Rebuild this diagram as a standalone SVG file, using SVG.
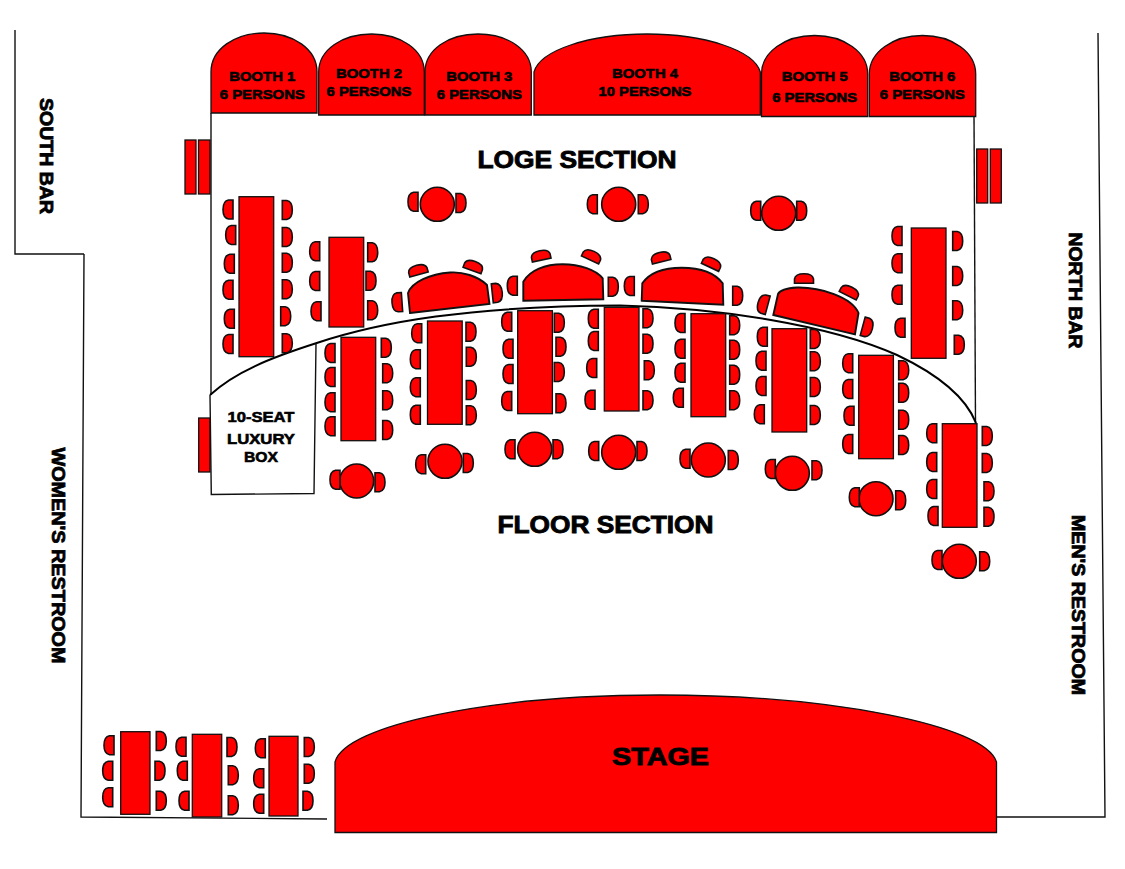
<svg xmlns="http://www.w3.org/2000/svg" width="1125" height="869" viewBox="0 0 1125 869">
<style>
.r{fill:#f00;stroke:#111;stroke-width:1.3}
.w{fill:none;stroke:#111;stroke-width:1.4}
.k{fill:none;stroke:#000;stroke-width:2}
.c{stroke-width:1.6}
.h{stroke-width:1.9}
text{font-family:"Liberation Sans",Arial,sans-serif;font-weight:700;fill:#000;text-anchor:middle;stroke:#000}
.b{font-size:13px;stroke-width:.6}
.s{font-size:24.5px;stroke-width:.9}
.v{font-size:18px;stroke-width:.8}
.x{font-size:15px;stroke-width:.6}
</style>
<defs>
<path id="cl" class="r c" d="M0-9.500H-4.500Q-10-8.500-10 0Q-10 8.500-4.500 9.500H0Z"/>
<path id="cr" class="r c" d="M0-9.500H4.500Q10-8.500 10 0Q10 8.500 4.500 9.500H0Z"/>
<path id="ct" class="r c" d="M-9.500 0V-4.500Q-8.500-9.500 0-9.500Q8.500-9.500 9.500-4.500V0Z"/>
<circle id="o" class="r c" r="17"/>
</defs>
<rect width="1125" height="869" fill="#fff"/>

<g id="walls">
<path class="w" d="M15 30V254H84"/>
<path class="w" d="M84 254L81 817L327 819"/>
<path class="w" d="M1098 33L1105 817H997"/>
<path class="w" d="M211 113V395"/>
<path class="w" d="M974 115L975.500 423"/>
<path class="k" d="M210 395C235 372 270 358 316 343.300C380 322 470 306 620 305.500C720 308 830 325 897 355C935 373 965 395 976 423"/>
</g>

<g id="booths">
<g id="booth-1"><path class="r" d="M211 113V72C211 49 235 33 264 33C293 33 317 49 317 72V113Z"/><text class="b" x="262.300" y="80.700" textLength="66" lengthAdjust="spacingAndGlyphs">BOOTH 1</text><text class="b" x="262.300" y="98.700" textLength="85" lengthAdjust="spacingAndGlyphs">6 PERSONS</text></g>
<g id="booth-2"><path class="r" d="M318.700 115V72C318.700 50 342 34 371.500 34C401 34 424.300 50 424.300 72V115Z"/><text class="b" x="369" y="78.300" textLength="66" lengthAdjust="spacingAndGlyphs">BOOTH 2</text><text class="b" x="369" y="96" textLength="85" lengthAdjust="spacingAndGlyphs">6 PERSONS</text></g>
<g id="booth-3"><path class="r" d="M425 115V72C425 50 448 34 478 34C508 34 531.300 50 531.300 72V115Z"/><text class="b" x="479.300" y="80.700" textLength="66" lengthAdjust="spacingAndGlyphs">BOOTH 3</text><text class="b" x="479.300" y="98.700" textLength="85" lengthAdjust="spacingAndGlyphs">6 PERSONS</text></g>
<g id="booth-4"><path class="r" d="M534 115V72C540 50 590 34 647 34C704 34 754 50 760.300 72V115Z"/><text class="b" x="645" y="78.300" textLength="66" lengthAdjust="spacingAndGlyphs">BOOTH 4</text><text class="b" x="645" y="96" textLength="93" lengthAdjust="spacingAndGlyphs">10 PERSONS</text></g>
<g id="booth-5"><path class="r" d="M761.500 116.500V74C761.500 52 785 35.500 814.500 35.500C844 35.500 867.700 52 867.700 74V116.500Z"/><text class="b" x="814.700" y="80.700" textLength="66" lengthAdjust="spacingAndGlyphs">BOOTH 5</text><text class="b" x="814.700" y="101.700" textLength="85" lengthAdjust="spacingAndGlyphs">6 PERSONS</text></g>
<g id="booth-6"><path class="r" d="M869.300 116.500V74C869.300 52 893 35.500 922.500 35.500C952 35.500 975.700 52 975.700 74V116.500Z"/><text class="b" x="922.300" y="80.700" textLength="66" lengthAdjust="spacingAndGlyphs">BOOTH 6</text><text class="b" x="922.300" y="98.700" textLength="85" lengthAdjust="spacingAndGlyphs">6 PERSONS</text></g>
</g>

<g id="bars">
<rect class="r" x="185" y="140" width="11" height="54"/>
<rect class="r" x="198.500" y="140" width="11.500" height="54"/>
<rect class="r" x="976.700" y="149" width="11" height="54"/>
<rect class="r" x="990.300" y="149" width="11" height="54"/>
<rect class="r" x="198.700" y="418" width="11.300" height="54"/>
</g>

<g id="luxury-box">
<path class="w" d="M316 343.300L314 493.500L211.300 494.500L210 395"/>
<text class="x" x="261" y="421.700" textLength="67" lengthAdjust="spacingAndGlyphs">10-SEAT</text>
<text class="x" x="261" y="444" textLength="68" lengthAdjust="spacingAndGlyphs">LUXURY</text>
<text class="x" x="261" y="462" textLength="34" lengthAdjust="spacingAndGlyphs">BOX</text>
</g>

<g id="long-tables">
<g id="t1"><rect class="r" x="239" y="196.700" width="34.700" height="160"/>
<use href="#cl" x="233" y="209.500"/><use href="#cl" x="235.700" y="235"/><use href="#cl" x="234.300" y="263.700"/><use href="#cl" x="233" y="289.700"/><use href="#cl" x="234.300" y="318.700"/><use href="#cl" x="233" y="344"/>
<use href="#cr" x="282.300" y="210"/><use href="#cr" x="282.300" y="237"/><use href="#cr" x="282.300" y="262.700"/><use href="#cr" x="282.300" y="289.300"/><use href="#cr" x="280.700" y="316.300"/><use href="#cr" x="282.300" y="343.300"/></g>
<g id="t2"><rect class="r" x="329" y="237.300" width="34.700" height="89.700"/>
<use href="#cl" x="319.700" y="251.300"/><use href="#cl" x="319.700" y="281"/><use href="#cl" x="321" y="311.300"/>
<use href="#cr" x="367.700" y="252.300"/><use href="#cr" x="366" y="280.700"/><use href="#cr" x="367.700" y="310.300"/></g>
<g id="t3"><rect class="r" x="341" y="337.300" width="34.700" height="103.400"/>
<use href="#cl" x="335" y="353"/><use href="#cl" x="335" y="377"/><use href="#cl" x="335" y="402.300"/><use href="#cl" x="335" y="426.300"/>
<use href="#cr" x="381.300" y="347.700"/><use href="#cr" x="382.700" y="373.300"/><use href="#cr" x="382.700" y="400.300"/><use href="#cr" x="382.700" y="430"/></g>
<g id="t4"><rect class="r" x="427.500" y="321" width="34.700" height="103.300"/>
<use href="#cl" x="421.700" y="333.300"/><use href="#cl" x="420.300" y="359.300"/><use href="#cl" x="420.300" y="387.300"/><use href="#cl" x="420.300" y="414.700"/>
<use href="#cr" x="466" y="331.700"/><use href="#cr" x="466.300" y="356.700"/><use href="#cr" x="466.300" y="390"/><use href="#cr" x="466.300" y="415.300"/></g>
<g id="t5"><rect class="r" x="517.700" y="310.700" width="34.700" height="103"/>
<use href="#cl" x="511.700" y="321.700"/><use href="#cl" x="513" y="348.700"/><use href="#cl" x="513" y="374"/><use href="#cl" x="511.700" y="401"/>
<use href="#cr" x="554.300" y="322.700"/><use href="#cr" x="556" y="346.700"/><use href="#cr" x="554.300" y="372"/><use href="#cr" x="556" y="403.300"/></g>
<g id="t6"><rect class="r" x="604.300" y="307.300" width="34.700" height="103.700"/>
<use href="#cl" x="598.300" y="318.700"/><use href="#cl" x="598.300" y="341"/><use href="#cl" x="596.700" y="368"/><use href="#cl" x="595" y="399.700"/>
<use href="#cr" x="643" y="318.300"/><use href="#cr" x="643" y="343.700"/><use href="#cr" x="644.300" y="370.300"/><use href="#cr" x="643" y="400.300"/></g>
<g id="t7"><rect class="r" x="691" y="313.700" width="34.700" height="103"/>
<use href="#cl" x="685" y="323"/><use href="#cl" x="685" y="348.700"/><use href="#cl" x="685" y="372.700"/><use href="#cl" x="683.300" y="397.700"/>
<use href="#cr" x="729.700" y="325.300"/><use href="#cr" x="729.700" y="349.700"/><use href="#cr" x="729.700" y="374.700"/><use href="#cr" x="729.700" y="400.300"/></g>
<g id="t8"><rect class="r" x="772" y="328.700" width="34.700" height="103.300"/>
<use href="#cl" x="767.300" y="336.700"/><use href="#cl" x="766" y="360.700"/><use href="#cl" x="766" y="386"/><use href="#cl" x="764.300" y="414.300"/>
<use href="#cr" x="810.300" y="339"/><use href="#cr" x="810.300" y="361.300"/><use href="#cr" x="810.300" y="387"/><use href="#cr" x="810.300" y="415"/></g>
<g id="t9"><rect class="r" x="858.700" y="355.300" width="34.700" height="103.400"/>
<use href="#cl" x="852.700" y="363.300"/><use href="#cl" x="852.700" y="389"/><use href="#cl" x="854" y="415.700"/><use href="#cl" x="852.700" y="444"/>
<use href="#cr" x="898.700" y="370.300"/><use href="#cr" x="898.700" y="392.700"/><use href="#cr" x="898.700" y="419.700"/><use href="#cr" x="898.700" y="445"/></g>
<g id="t10"><rect class="r" x="942.300" y="423.700" width="34.700" height="103.600"/>
<use href="#cl" x="936.700" y="433.300"/><use href="#cl" x="936.700" y="462"/><use href="#cl" x="936.700" y="489"/><use href="#cl" x="938" y="516"/>
<use href="#cr" x="982.300" y="436"/><use href="#cr" x="982.300" y="463"/><use href="#cr" x="984" y="491.300"/><use href="#cr" x="984" y="516.700"/></g>
<g id="t11"><rect class="r" x="911.300" y="228" width="34.700" height="130.300"/>
<use href="#cl" x="902" y="236"/><use href="#cl" x="902" y="263.300"/><use href="#cl" x="902" y="294.700"/><use href="#cl" x="905" y="327.700"/>
<use href="#cr" x="952.700" y="241"/><use href="#cr" x="952.700" y="276"/><use href="#cr" x="952.700" y="310.300"/><use href="#cr" x="954.300" y="344.700"/></g>
<g id="t12"><rect class="r" x="120.700" y="731.700" width="29.300" height="82.600"/>
<use href="#cl" x="114" y="745.300"/><use href="#cl" x="112.700" y="770.700"/><use href="#cl" x="112.700" y="797.300"/>
<use href="#cr" x="156.300" y="741"/><use href="#cr" x="155" y="770.700"/><use href="#cr" x="156.300" y="800.700"/></g>
<g id="t13"><rect class="r" x="192.300" y="734.300" width="29.400" height="82.700"/>
<use href="#cl" x="186" y="746.700"/><use href="#cl" x="187.300" y="770.700"/><use href="#cl" x="189" y="800.700"/>
<use href="#cr" x="227" y="747"/><use href="#cr" x="228.300" y="775.300"/><use href="#cr" x="228.300" y="805.300"/></g>
<g id="t14"><rect class="r" x="269" y="736.300" width="29" height="79.700"/>
<use href="#cl" x="265.300" y="748.300"/><use href="#cl" x="263.700" y="778.300"/><use href="#cl" x="263.700" y="803.700"/>
<use href="#cr" x="304.300" y="747"/><use href="#cr" x="304.300" y="773.700"/><use href="#cr" x="303" y="800.700"/></g>
</g>

<g id="round-tables">
<g id="r1"><use href="#o" x="437.300" y="204.300"/><use href="#cl" x="418" y="201.700"/><use href="#cr" x="456" y="203"/></g>
<g id="r2"><use href="#o" x="618.700" y="204.300"/><use href="#cl" x="597.300" y="204.300"/><use href="#cr" x="638.300" y="204.300"/></g>
<g id="r3"><use href="#o" x="778.700" y="213.300"/><use href="#cl" x="760.700" y="210.700"/><use href="#cr" x="796.700" y="210.700"/></g>
<g id="r4"><use href="#o" x="356.700" y="481"/><use href="#cl" x="340" y="479.700"/><use href="#cr" x="375" y="482.300"/></g>
<g id="r5"><use href="#o" x="445" y="461.300"/><use href="#cl" x="425.700" y="464.300"/><use href="#cr" x="463.300" y="463"/></g>
<g id="r6"><use href="#o" x="534.700" y="449.300"/><use href="#cl" x="515" y="449.300"/><use href="#cr" x="553" y="449.300"/></g>
<g id="r7"><use href="#o" x="618.700" y="452.300"/><use href="#cl" x="598.700" y="451"/><use href="#cr" x="637" y="451"/></g>
<g id="r8"><use href="#o" x="708.300" y="460"/><use href="#cl" x="690" y="458.700"/><use href="#cr" x="728.300" y="460"/></g>
<g id="r9"><use href="#o" x="792.300" y="473.300"/><use href="#cl" x="775.300" y="469"/><use href="#cr" x="812" y="470.300"/></g>
<g id="r10"><use href="#o" x="876" y="498.700"/><use href="#cl" x="859.300" y="497.300"/><use href="#cr" x="895.700" y="500.300"/></g>
<g id="r11"><use href="#o" x="959.300" y="561.300"/><use href="#cl" x="942" y="560"/><use href="#cr" x="979.700" y="561.300"/></g>
</g>

<g id="arch-tables">
<g id="a1"><path class="r h" d="M410 313L489.500 304L487 285C478 276 462 271.500 450 272.500C430 274 412 282 408 293Z"/>
<use href="#ct" transform="translate(419 274.500) rotate(-15)"/><use href="#ct" transform="translate(472 270.500) rotate(20)"/>
<use href="#cl" transform="translate(402 302) rotate(-4)"/><use href="#cr" transform="translate(492.300 293.300) rotate(-6)"/></g>
<g id="a2"><path class="r h" d="M523.300 300.700L603.300 299.300L602.700 278.300C596 270 580 264.300 562.700 264.300C545 264.300 530 270 523.300 281.700Z"/>
<use href="#ct" transform="translate(541.700 260) rotate(-12)"/><use href="#ct" transform="translate(590 260) rotate(25)"/>
<use href="#cl" x="517.300" y="285.700"/><use href="#cr" x="608.300" y="286.700"/></g>
<g id="a3"><path class="r h" d="M641.700 300.700L723.300 304.700L722.700 283.300C715 273 700 267.700 681.700 267.700C663 267.700 650 272 642.300 283.300Z"/>
<use href="#ct" transform="translate(661.700 261.700) rotate(-14)"/><use href="#ct" transform="translate(710 267.300) rotate(25)"/>
<use href="#cl" x="634.300" y="286"/><use href="#cr" x="732.700" y="295.700"/></g>
<g id="a4"><path class="r h" d="M773.300 315L855 334.300L858.500 313C852 297 820 287 797 287.500C787 288 780 290 778 294Z"/>
<use href="#ct" x="804" y="283.300"/><use href="#ct" transform="translate(847.700 295.700) rotate(27)"/>
<use href="#cl" transform="translate(767.700 305.300) rotate(15)"/><use href="#cr" transform="translate(862.700 326.300) rotate(15)"/></g>
</g>

<g id="stage">
<path class="r" d="M335 832.500V762C345 725 490 695 660 695C830 695 985 725 996.500 762V832.500Z"/>
<text class="s" x="660.500" y="765" textLength="97" lengthAdjust="spacingAndGlyphs">STAGE</text>
</g>

<g id="labels">
<text class="s" x="577" y="168" textLength="199" lengthAdjust="spacingAndGlyphs">LOGE SECTION</text>
<text class="s" x="605.500" y="533" textLength="216" lengthAdjust="spacingAndGlyphs">FLOOR SECTION</text>
<text class="v" transform="translate(39.500 156) rotate(90)" textLength="116" lengthAdjust="spacingAndGlyphs">SOUTH BAR</text>
<text class="v" transform="translate(1069 290.500) rotate(90)" textLength="116" lengthAdjust="spacingAndGlyphs">NORTH BAR</text>
<text class="v" transform="translate(52 555.500) rotate(90)" textLength="216" lengthAdjust="spacingAndGlyphs">WOMEN'S RESTROOM</text>
<text class="v" transform="translate(1072 605) rotate(90)" textLength="180" lengthAdjust="spacingAndGlyphs">MEN'S RESTROOM</text>
</g>
</svg>
